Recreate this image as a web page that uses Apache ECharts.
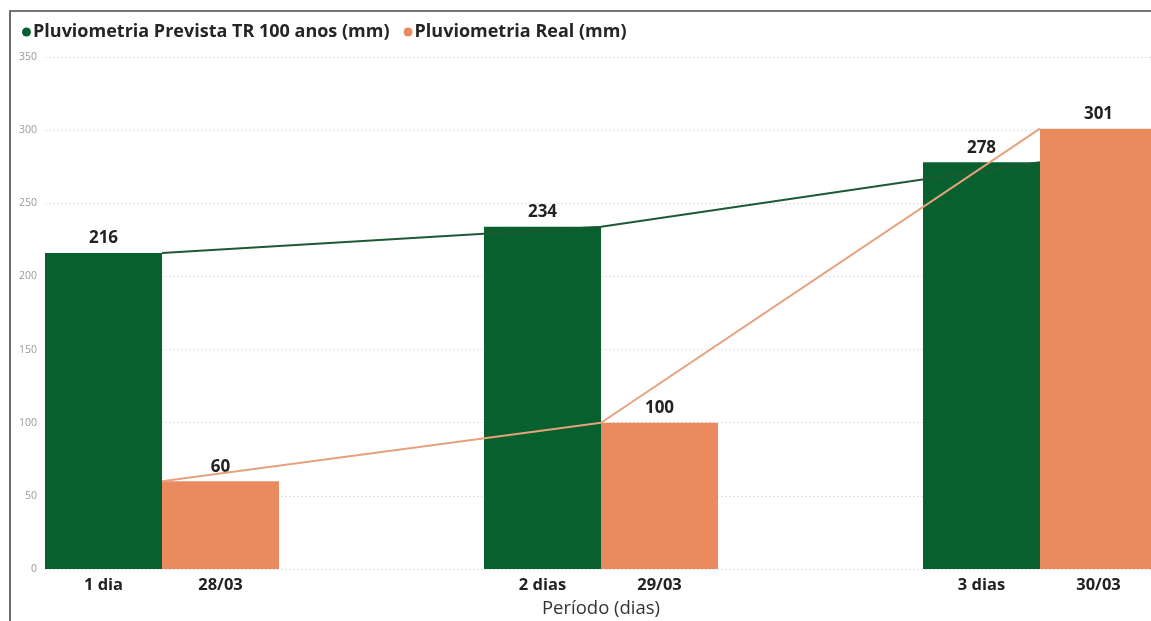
<!DOCTYPE html>
<html>
<head>
<meta charset="utf-8">
<script src="https://cdn.jsdelivr.net/npm/echarts@6/dist/echarts.min.js"></script>
<style>
  html, body { margin: 0; padding: 0; background: #fff; }
  #chart { width: 1151px; height: 621px; }
</style>
</head>
<body>
<div id="chart"></div>
<script>
// Períodos de chuva e datas correspondentes
const periods = ['1 dia', '2 dias', '3 dias'];
const dates = ['28/03', '29/03', '30/03'];
// Pluviometria (mm)
const forecastTR100 = [216, 234, 278];
const realRain = [60, 100, 301];
// Escala do eixo Y
const yMin = 0;
const yMax = 350;
const yStep = 50;

const seriesNames = ['Pluviometria Prevista TR 100 anos (mm)', 'Pluviometria Real (mm)'];
const GREEN = '#07602d';
const ORANGE = '#e98b5f';
const FONT = '"Open Sans", "Noto Sans", sans-serif';

const chart = echarts.init(document.getElementById('chart'));

const valueLabel = {
  show: true,
  position: 'top',
  distance: 6,
  color: '#222',
  fontFamily: FONT,
  fontWeight: 'bold',
  fontSize: 17
};

const catText = { width: 117, align: 'center', color: '#222', fontWeight: 'bold', fontSize: 16.5, fontFamily: FONT };

chart.setOption({
  animation: false,
  backgroundColor: '#fff',
  textStyle: { fontFamily: FONT },
  legend: {
    left: 17,
    top: 18,
    icon: 'circle',
    itemWidth: 9,
    itemHeight: 9,
    itemGap: 14,
    data: seriesNames,
    textStyle: { color: '#252525', fontWeight: 'bold', fontSize: 18, fontFamily: FONT, padding: [0, 0, 0, -3] }
  },
  graphic: [{
    type: 'polyline',
    shape: { points: [[10, 640], [10, 11], [1170, 11]] },
    style: { stroke: '#4a4a4a', lineWidth: 1.6, fill: null },
    silent: true
  }],
  grid: [
    // eixo de valores com as linhas de grade
    { left: 45, right: 0, top: 57, bottom: 52, outerBoundsMode: 'none' },
    // grade das barras (faixas das categorias centradas na junção das barras)
    { left: -57.5, right: -108.5, top: 57, bottom: 52, outerBoundsMode: 'none' }
  ],
  xAxis: [
    { type: 'value', gridIndex: 0, show: false, min: 0, max: 1 },
    {
      type: 'category',
      gridIndex: 1,
      data: periods,
      axisLine: { show: false },
      axisTick: { show: false },
      axisLabel: {
        margin: 8,
        interval: 0,
        formatter: (v, i) => '{a|' + v + '}{b|' + dates[i] + '}',
        rich: { a: catText, b: catText }
      },
      name: 'Período (dias)',
      nameLocation: 'middle',
      nameGap: 27,
      nameTextStyle: { color: '#333', fontSize: 18.5, fontWeight: 500, fontFamily: FONT }
    }
  ],
  yAxis: [
    {
      type: 'value',
      gridIndex: 0,
      min: yMin,
      max: yMax,
      interval: yStep,
      axisLine: { show: false },
      axisTick: { show: false },
      axisLabel: { color: '#9a9a9a', fontSize: 10.5, margin: 8, fontFamily: FONT },
      splitLine: { lineStyle: { color: '#e2e2e2', type: [2, 2], width: 1 } }
    },
    {
      type: 'value',
      gridIndex: 1,
      min: yMin,
      max: yMax,
      interval: yStep,
      show: false,
      splitLine: { show: false }
    }
  ],
  series: [
    {
      name: seriesNames[0],
      type: 'bar',
      xAxisIndex: 1,
      yAxisIndex: 1,
      barWidth: 117,
      barGap: '0%',
      itemStyle: { color: GREEN },
      label: valueLabel,
      data: forecastTR100,
      z: 2
    },
    {
      name: seriesNames[1],
      type: 'bar',
      xAxisIndex: 1,
      yAxisIndex: 1,
      barWidth: 117,
      barGap: '0%',
      itemStyle: { color: ORANGE },
      label: valueLabel,
      data: realRain,
      z: 2
    },
    {
      name: seriesNames[0],
      type: 'line',
      xAxisIndex: 1,
      yAxisIndex: 1,
      symbol: 'none',
      lineStyle: { color: '#1d5a33', width: 2 },
      itemStyle: { color: GREEN },
      data: forecastTR100,
      z: 3
    },
    {
      name: seriesNames[1],
      type: 'line',
      xAxisIndex: 1,
      yAxisIndex: 1,
      symbol: 'none',
      lineStyle: { color: '#e6a17d', width: 2 },
      itemStyle: { color: ORANGE },
      data: realRain,
      z: 3
    }
  ]
});
</script>
</body>
</html>
